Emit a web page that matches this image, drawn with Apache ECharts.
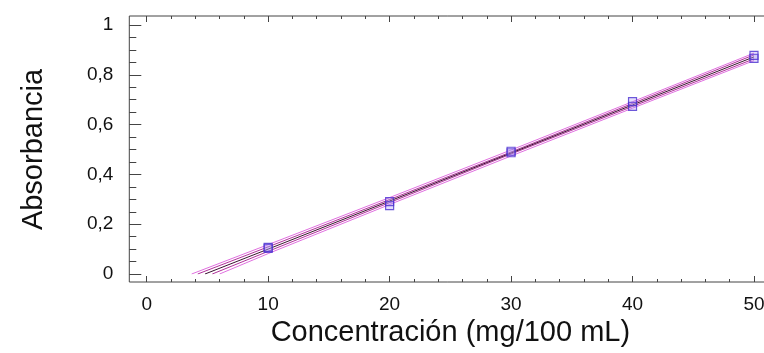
<!DOCTYPE html>
<html>
<head>
<meta charset="utf-8">
<script src="https://cdn.jsdelivr.net/npm/echarts@6/dist/echarts.min.js"></script>
<style>html,body{margin:0;padding:0;background:#fff}#c{width:764px;height:353px}</style>
</head>
<body>
<div id="c"></div>
<script>
// Measured points (concentration mg/100 mL, absorbance)
const obsX = [10, 10, 20, 20, 30, 30, 40, 40, 50, 50];
const obsY = [0.103, 0.107, 0.275, 0.291, 0.487, 0.493, 0.673, 0.692, 0.866, 0.878];

// Fitted line and bands
const fitX      = [4.8, 10, 20, 30, 40, 50];
const fitY      = [0, 0.100, 0.293, 0.486, 0.679, 0.872];
const confUpX   = [4.2, 10, 20, 30, 40, 50];
const confUpY   = [0, 0.109, 0.299, 0.490, 0.685, 0.880];
const confLoX   = [5.4, 10, 20, 30, 40, 50];
const confLoY   = [0, 0.091, 0.287, 0.482, 0.673, 0.864];
const predUpX   = [3.7, 10, 20, 30, 40, 50];
const predUpY   = [0, 0.118, 0.307, 0.498, 0.692, 0.887];
const predLoX   = [6.0, 10, 20, 30, 40, 50];
const predLoY   = [0, 0.082, 0.279, 0.474, 0.666, 0.857];

function pairs(xs, ys){ return xs.map((x,i)=>[x, ys[i]]); }

const chart = echarts.init(document.getElementById('c'), null, {renderer:'canvas'});
const axisCol = '#444';
const font = 'Liberation Sans, Arial, sans-serif';

function lineSeries(xs, ys, color, z){
  return {type:'line', xAxisIndex:0, yAxisIndex:0, data:pairs(xs, ys), showSymbol:false,
    lineStyle:{color:color, width:1}, z:z, silent:true, animation:false};
}

chart.setOption({
  animation:false,
  grid:[
    {left:146.7, right:10, top:25, bottom:79, outerBoundsMode:'none', containLabel:false},
    {left:129.3, width:680, top:16, bottom:71, outerBoundsMode:'none', containLabel:false,
      show:true, borderColor:axisCol, borderWidth:1, backgroundColor:'transparent'}
  ],
  xAxis:[
    {type:'value', gridIndex:0, min:0, max:50, interval:10, position:'bottom', offset:8,
      axisLine:{show:false, onZero:false},
      axisTick:{show:true, inside:true, length:6, lineStyle:{color:axisCol}},
      minorTick:{show:true, splitNumber:5, length:3, lineStyle:{color:axisCol}},
      splitLine:{show:false},
      axisLabel:{show:true, margin:13, color:'#111', fontSize:19, fontFamily:font},
      name:'Concentración (mg/100 mL)', nameLocation:'middle', nameGap:36,
      nameTextStyle:{fontSize:29, color:'#111', fontFamily:font}},
    {type:'value', gridIndex:0, min:0, max:50, interval:10, position:'top', offset:9,
      axisLine:{show:false, onZero:false},
      axisTick:{show:true, inside:true, length:6, lineStyle:{color:axisCol}},
      minorTick:{show:true, splitNumber:5, length:3, lineStyle:{color:axisCol}},
      splitLine:{show:false}, axisLabel:{show:false}},
    {type:'value', gridIndex:1, show:false, min:0, max:1}
  ],
  yAxis:[
    {type:'value', gridIndex:0, min:0, max:1, interval:0.2, position:'left', offset:17.4,
      axisLine:{show:false, onZero:false},
      axisTick:{show:true, inside:true, length:12, lineStyle:{color:axisCol}},
      minorTick:{show:true, splitNumber:4, length:7, lineStyle:{color:axisCol}},
      splitLine:{show:false},
      axisLabel:{show:true, margin:16, color:'#111', fontSize:19, fontFamily:font,
        formatter: v => String(+v.toFixed(1)).replace('.', ',')},
      name:'Absorbancia', nameLocation:'middle', nameGap:81, nameRotate:90,
      nameTextStyle:{fontSize:29, color:'#111', fontFamily:font}},
    {type:'value', gridIndex:1, show:false, min:0, max:1}
  ],
  series:[
    lineSeries(predUpX, predUpY, '#e070e0', 2),
    lineSeries(predLoX, predLoY, '#e070e0', 2),
    lineSeries(confUpX, confUpY, '#b0309a', 3),
    lineSeries(confLoX, confLoY, '#b0309a', 3),
    lineSeries(fitX, fitY, '#3a1030', 4),
    {type:'scatter', xAxisIndex:0, yAxisIndex:0, data:pairs(obsX, obsY), symbol:'rect', symbolSize:8,
      itemStyle:{color:'rgba(160,140,240,0.35)', borderColor:'#4a2fd0', borderWidth:1.2}, z:5, silent:true}
  ]
});
</script>
</body>
</html>
